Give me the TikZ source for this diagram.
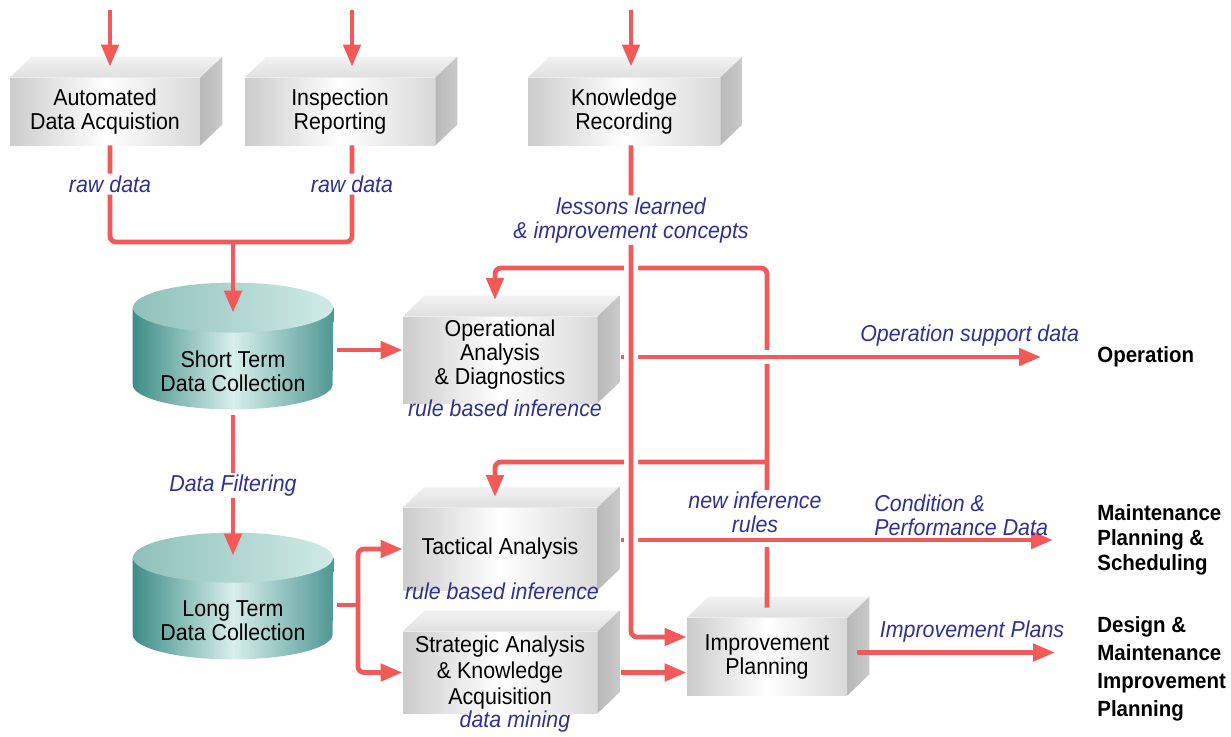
\documentclass[tikz,border=0pt]{standalone}
\usepackage{fontspec}
\setmainfont{Liberation Sans}[FakeStretch=0.93]
\usetikzlibrary{arrows.meta,positioning,calc,backgrounds}
\definecolor{flowred}{HTML}{F25A5A}
\definecolor{lblblue}{HTML}{2E3192}
\definecolor{tealdark}{HTML}{3D8C87}
\definecolor{teallight}{HTML}{D8EFEB}
\definecolor{tealtop}{HTML}{9FD6CE}

\begin{document}
\begin{tikzpicture}[x=0.5pt,y=-0.5pt,
    cube/.style={
        minimum width=97pt, minimum height=#1, inner sep=0pt, align=center,
        font=\fontsize{11.5}{12}\selectfont,
        left color=gray!40, right color=gray!30, middle color=white
    },
    cubetop/.style={top color=gray!10, bottom color=gray!25},
    cubeside/.style={left color=gray!55, right color=gray!42},
    db/.style={
        minimum width=100pt, minimum height=38pt, inner sep=0pt, align=center,
        font=\fontsize{11.5}{12}\selectfont
    },
    redline/.style={draw=flowred, line width=2.4pt},
    flow/.style={redline, -{Triangle[length=11pt,width=8.5pt]}},
    bridge/.style={preaction={draw=white, line width=7pt, -}},
    lbl/.style={
        text=lblblue, font=\fontsize{11.5}{12}\selectfont\itshape,
        align=center, inner sep=1pt
    },
    outlbl/.style={
        font=\fontsize{11}{12.5}\selectfont\bfseries,
        align=left, anchor=west, inner sep=0pt
    }
]
\useasboundingbox (0,0) rectangle (1231,736);

% Processing blocks (front faces)
\node[cube=33.5pt, minimum width=95pt] (ada) at (105,111.5) {Automated\\Data Acquistion};
\node[cube=33.5pt, minimum width=95pt] (ir) at (340,111.5) {Inspection\\Reporting};
\node[cube=33.5pt, minimum width=96pt] (kr) at (624,111.5) {Knowledge\\Recording};
\node[cube=43pt] (oad) at (500,360) {Operational\\Analysis\\\& Diagnostics\\[-4pt]\mbox{}};
\node[cube=41pt] (tac) at (500,549) {Tactical Analysis};
\node[cube=40.5pt] (sak) at (500,672.5) {Strategic Analysis\\[1pt]\& Knowledge\\[1pt]Acquisition};
\node[cube=38.5pt, minimum width=80pt] (imp) at (767,656.5) {Improvement\\Planning};

% Data stores
\node[db] (stc) at (233,371) {Short Term\\Data Collection};
\node[db] (ltc) at (233,621) {Long Term\\Data Collection};

% Top and side faces of the blocks
\foreach \n in {ada,ir,kr,oad,tac,sak,imp}{
    \shade[cubetop] (\n.north west) -- ++(11pt,10.5pt)
        -- ([shift={(11pt,10.5pt)}]\n.north east) -- (\n.north east) -- cycle;
    \shade[cubeside] (\n.north east) -- ++(11pt,10.5pt)
        -- ([shift={(11pt,10.5pt)}]\n.south east) -- (\n.south east) -- cycle;
}

% Cylinder bodies behind the store texts
\begin{scope}[on background layer]
\foreach \n in {stc,ltc}{
    \shade[left color=tealdark, right color=tealdark!90, middle color=teallight]
        ([yshift=12.5pt]\n.north west) -- ([yshift=12.5pt]\n.south west)
        arc[start angle=180, end angle=360, x radius=50pt, y radius=12.5pt]
        -- ([yshift=12.5pt]\n.north east) -- cycle;
    \shade[left color=tealtop!90!black, right color=tealtop!50]
        ([yshift=12.5pt]\n.north) ellipse[x radius=50pt, y radius=12.5pt];
}
\end{scope}

% Right hand receivers
\node[outlbl] (opn) at (1097,357) {Operation};
\node[outlbl] (mps) at (1097,540) {Maintenance\\Planning \&\\Scheduling};
\node[outlbl, font=\fontsize{11}{14}\selectfont\bfseries] (dmip) at (1097,669)
    {Design \&\\Maintenance\\Improvement\\Planning};

% Notes under the blocks
\node[lbl] (oadnote) at (505,408) {rule based inference};
\node[lbl] (tacnote) at (502,591) {rule based inference};
\node[lbl] (saknote) at (515,722) {data mining};

% Free ends and bends
\coordinate (adain) at (110,10);
\coordinate (irin) at (352,10);
\coordinate (krin) at (631,10);
\coordinate (join) at (233,242);
\coordinate (loopA) at (767,268);
\coordinate (loopB) at (767,462);
\coordinate (opin) at (495,300);
\coordinate (tacin) at (495,497);
\coordinate (fork) at (358,605);

% Inputs from above
\foreach \c/\n in {adain/ada,irin/ir,krin/kr}
    \draw[flow] (\c) -- ([yshift=5.5pt]\c |- \n.north);

% Raw data into short term store
\draw[redline, rounded corners=3pt] (ada.south -| adain)
    |- node[lbl, fill=white, pos=.2] {raw data} (join)
    -| node[lbl, fill=white, pos=.8] {raw data} (ir.south -| irin);
\draw[flow] (join) -- ([yshift=10pt]stc.north);
\draw[flow] ([xshift=2pt,yshift=10.5pt]stc.east) -- ([yshift=10.5pt]stc.east -| oad.west);
\draw[flow] ([yshift=-3pt]stc.south)
    -- node[lbl, fill=white] {Data Filtering} ([yshift=13.5pt]ltc.north);

% Long term store feeds tactical and strategic analysis
\draw[redline] ([xshift=2pt,yshift=8pt]ltc.east) -- (fork);
\draw[flow, rounded corners=3pt] (fork) |- (tac.west);
\draw[flow, rounded corners=3pt] (fork) |- (sak.west);

% Feedback of new rules
\draw[flow, rounded corners=3pt] ([yshift=5pt]imp.north)
    -- node[lbl, fill=white, pos=.28, xshift=-6pt] {new inference\\rules} (loopA)
    -| (opin);
\draw[flow, rounded corners=3pt] (loopB) -| (tacin);

% Outputs
\draw[flow, bridge] ([xshift=12pt]oad.east |- opn.west)
    -- node[lbl, above, pos=.83, yshift=3pt] {Operation support data} ([xshift=-28pt]opn.west);
\draw[flow, bridge] ([xshift=12pt]tac.east |- mps.west)
    -- node[lbl, anchor=south west, align=left, pos=.576] {Condition \&\\Performance Data} ([xshift=-22pt]mps.west);
\draw[flow] ([xshift=12pt]sak.east) -- (sak.east -| imp.west);
\draw[flow] ([xshift=5pt,yshift=2pt]imp.east)
    -- node[lbl, above, pos=.58, yshift=3pt] {Improvement Plans} ([xshift=-21pt,yshift=2pt]imp.east -| dmip.west);

% Lessons learned down to improvement planning
\draw[flow, bridge, rounded corners=3pt] (kr.south -| krin)
    |- node[lbl, fill=white, pos=.076] {lessons learned\\\& improvement concepts} ([yshift=9.75pt]imp.west);

\end{tikzpicture}
\end{document}
